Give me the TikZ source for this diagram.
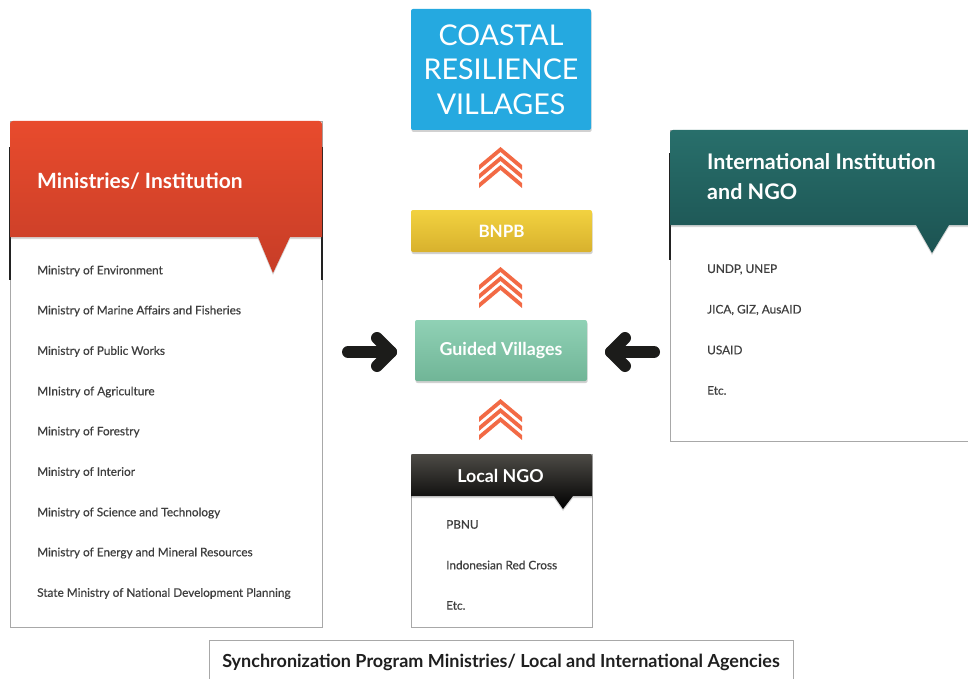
\documentclass[tikz,border=0pt]{standalone}
\usepackage{fontspec}
\setmainfont{Lato}
\newfontfamily\itemfont[FakeBold=0.5]{Lato}
\usetikzlibrary{shadows}
\definecolor{coastblue}{HTML}{25A9E0}
\definecolor{yeltop}{HTML}{F2D240}
\definecolor{yelbot}{HTML}{D8B12D}
\definecolor{greentop}{HTML}{90D1B5}
\definecolor{greenbot}{HTML}{70B597}
\definecolor{redtop}{HTML}{E84B2D}
\definecolor{redbot}{HTML}{C73D27}
\definecolor{tealtop}{HTML}{286F6B}
\definecolor{tealbot}{HTML}{1C5352}
\definecolor{blacktop}{HTML}{4D4B46}
\definecolor{blackbot}{HTML}{000000}
\definecolor{chevorange}{HTML}{F26A45}
\definecolor{arrowblack}{HTML}{1C1C1A}
\definecolor{boxgray}{HTML}{A8A8A8}
\definecolor{itemgray}{HTML}{3F3F3F}
\definecolor{edgedark}{HTML}{222222}
\tikzset{
  itemtext/.style={anchor=west, inner sep=0pt, font=\itemfont\fontsize{11.8}{13}\selectfont, text=itemgray},
  panelbox/.style={draw=boxgray, line width=0.8pt, fill=white, inner sep=0pt},
  softshadow/.style={drop shadow={shadow xshift=0.6pt, shadow yshift=-2pt, opacity=0.3, fill=black!60}},
  headshadow/.style={drop shadow={shadow xshift=0pt, shadow yshift=-2pt, opacity=0.22, fill=black!70}},
  bigarrow/.style={line width=12pt, line cap=round, line join=round, draw=arrowblack},
  chevs/.pic={
    \foreach \k in {0,1,2}{
      \fill[chevorange] (-21.5,18+9*\k) -- (0,9*\k) -- (21.5,18+9*\k) -- (21.5,23+9*\k) -- (0,5+9*\k) -- (-21.5,23+9*\k) -- cycle;
    }
  },
  whitetitle/.style={text=white, inner sep=0pt, font=\bfseries\fontsize{21.5}{30}\selectfont}
}
\begin{document}
\begin{tikzpicture}[x=1pt,y=-1pt]
\useasboundingbox (0,0) rectangle (968,679);

% ---------- centre column ----------
\node[fill=coastblue, rounded corners=2pt, softshadow, minimum width=180pt, minimum height=121pt, inner sep=0pt,
      text=white, align=center, font=\fontsize{28.6}{34.5}\selectfont] (coastal) at (501,69.5) {COASTAL\\RESILIENCE\\VILLAGES};

\pic (chevA) at (500.5,147) {chevs};

\node[top color=yeltop, bottom color=yelbot, rounded corners=2pt, softshadow, minimum width=181pt, minimum height=42pt, inner sep=0pt,
      text=white, font=\bfseries\fontsize{17}{18}\selectfont] (bnpb) at (501.5,231) {BNPB};

\pic (chevB) at (500.5,267) {chevs};

\node[top color=greentop, bottom color=greenbot, rounded corners=2pt, softshadow, minimum width=172pt, minimum height=61pt, inner sep=0pt,
      text=white, font=\bfseries\fontsize{17.8}{20}\selectfont] (guided) at (501,350.5) {Guided Villages};

\pic (chevC) at (500.5,399) {chevs};

% ---------- arrows ----------
\coordinate (lA) at (348,352);
\coordinate (lT) at (391,352);
\coordinate (lU) at (377,338);
\coordinate (lD) at (377,366);
\draw[bigarrow] (lA) -- (lT);
\draw[bigarrow] (lU) -- (lT) -- (lD);
\coordinate (rA) at (654,352);
\coordinate (rT) at (611,352);
\coordinate (rU) at (625,338);
\coordinate (rD) at (625,366);
\draw[bigarrow] (rA) -- (rT);
\draw[bigarrow] (rU) -- (rT) -- (rD);

% ---------- left panel ----------
\node[panelbox, minimum width=312pt, minimum height=506pt] (minbox) at (166,374) {};
\draw[edgedark, line width=1.4pt] (10,147) -- (10,280);
\draw[edgedark, line width=1.4pt] (322,147) -- (322,280);
\path[top color=redtop, bottom color=redbot, headshadow]
  [rounded corners=3pt] (10,237) -- (10,121) -- (322,121) [sharp corners] -- (322,237) -- (290,237) -- (273,273) -- (258,237) -- cycle;
\node[whitetitle, anchor=west, font=\bfseries\fontsize{21}{30}\selectfont] (mintitle) at (37,181) {Ministries/ Institution};
\node[itemtext] (m1) at (37,271) {Ministry of Environment};
\node[itemtext] (m2) at (37,311) {Ministry of Marine Affairs and Fisheries};
\node[itemtext] (m3) at (37,351.5) {Ministry of Public Works};
\node[itemtext] (m4) at (37,392) {MInistry of Agriculture};
\node[itemtext] (m5) at (37,432) {Ministry of Forestry};
\node[itemtext] (m6) at (37,472.5) {Ministry of Interior};
\node[itemtext] (m7) at (37,513) {Ministry of Science and Technology};
\node[itemtext] (m8) at (37,553) {Ministry of Energy and Mineral Resources};
\node[itemtext] (m9) at (37,593.5) {State Ministry of National Development Planning};

% ---------- right panel ----------
\node[panelbox, minimum width=310pt, minimum height=311pt] (intbox) at (825.5,285.5) {};
\draw[edgedark, line width=1.4pt] (670,153) -- (670,260);
\path[top color=tealtop, bottom color=tealbot, headshadow]
  [rounded corners=3pt] (670,225) -- (670,130) -- (985,130) [sharp corners] -- (985,225) -- (949,225) -- (932,253) -- (916,225) -- cycle;
\node[whitetitle, anchor=west, align=left] (inttitle) at (707,176.5) {International Institution\\and NGO};
\node[itemtext] (i1) at (707,269.5) {UNDP, UNEP};
\node[itemtext] (i2) at (707,310) {JICA, GIZ, AusAID};
\node[itemtext] (i3) at (707,350) {USAID};
\node[itemtext] (i4) at (707,390.5) {Etc.};

% ---------- local NGO panel ----------
\node[panelbox, minimum width=181pt, minimum height=173pt] (ngobox) at (501.5,540.5) {};
\path[top color=blacktop, bottom color=blackbot, headshadow]
  [rounded corners=2pt] (411,496) -- (411,454) -- (592,454) [sharp corners] -- (592,496) -- (573,496) -- (563,509) -- (554,496) -- cycle;
\node[text=white, inner sep=0pt, font=\bfseries\fontsize{17.8}{20}\selectfont] (ngotitle) at (500.5,476) {Local NGO};
\node[itemtext] (n1) at (446,524.5) {PBNU};
\node[itemtext] (n2) at (446,565) {Indonesian Red Cross};
\node[itemtext] (n3) at (446,605.5) {Etc.};

% ---------- bottom caption ----------
\node[panelbox, minimum width=584pt, minimum height=50pt] (syncbox) at (501.5,665.5) {};
\node[inner sep=0pt, text=black!88, font=\bfseries\fontsize{18}{20}\selectfont] (synctext) at (501,662) {Synchronization Program Ministries/ Local and International Agencies};
\end{tikzpicture}
\end{document}
